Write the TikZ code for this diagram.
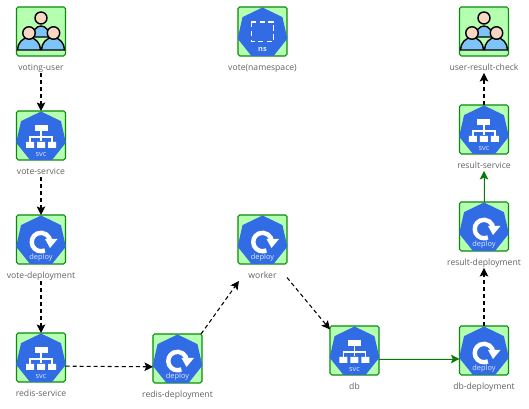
\documentclass[tikz,border=0pt]{standalone}
\usepackage{fontspec}
\setsansfont{Open Sans}
\usepackage{tikz}
\usetikzlibrary{arrows.meta,shapes.geometric}
\definecolor{kubeblue}{HTML}{326CE5}
\definecolor{leaf}{HTML}{B5FFB0}
\definecolor{rim}{HTML}{0B8A0B}
\definecolor{skin}{HTML}{F8D8C2}
\definecolor{shirt}{HTML}{7FC4F8}
\definecolor{flowgreen}{HTML}{0A7A0A}
\tikzset{unit/.style={inner sep=0pt,outer sep=0pt,minimum width=.98cm,minimum height=1.32cm,label={[caption]south:#1}},
caption/.style={anchor=south,inner sep=0pt,text height=3.9pt,text depth=1.3pt,font=\fontsize{4.9}{6}\selectfont\sffamily,text=black!62},
tag/.style={text=white!85!kubeblue,inner sep=0pt,font=\fontsize{4.2}{5}\selectfont\sffamily},
dashflow/.style={-{Stealth[length=1.7mm,width=1.7mm,inset=.35mm]},line width=.6pt,dash pattern=on 2.3pt off 1.7pt},
greenflow/.style={-{Stealth[length=1.7mm,width=1.7mm,inset=.35mm]},line width=.55pt,draw=flowgreen,fill=flowgreen},
person/.style={draw=black,line width=.8pt},
kubebase/.pic={
\draw[rim,fill=leaf,line width=.6pt,rounded corners=1pt] (-.49,0) rectangle (.49,-.98);
\node[regular polygon,regular polygon sides=7,minimum size=1.02cm,inner sep=0pt,fill=kubeblue] at (0,-.52) {};},
deployicon/.pic={
\pic {kubebase};
\draw[white,line width=2.5pt] (.078,-.708) arc (-65:-360:.185 and .185);
\fill[white] (.08,-.48) -- (.33,-.48) -- (.18,-.66) -- cycle;
\node[tag] at (0,-.86) {deploy};},
svcicon/.pic={
\pic {kubebase};
\fill[white] (-.13,-.29) rectangle (.13,-.40);
\draw[white,line width=.6pt] (0,-.40) -- (0,-.60) (-.22,-.62) -- (-.22,-.52) -- (.22,-.52) -- (.22,-.62);
\fill[white] (-.30,-.62) rectangle (-.14,-.74) (-.08,-.62) rectangle (.08,-.74) (.14,-.62) rectangle (.30,-.74);
\node[tag] at (0,-.87) {svc};},
nsicon/.pic={
\pic {kubebase};
\draw[white,line width=.6pt,densely dashed] (-.225,-.30) rectangle (.225,-.69);
\node[tag,font=\fontsize{4.2}{5}\selectfont\sffamily\bfseries] at (0,-.84) {ns};},
usersicon/.pic={
\draw[rim,fill=leaf,line width=.6pt,rounded corners=1pt] (-.49,0) rectangle (.49,-.98);
\draw[person,fill=shirt] (-.17,-.60) arc (180:0:.17 and .22) -- cycle;
\draw[person,fill=skin] (0,-.22) circle (.12);
\draw[person,fill=shirt] (-.47,-.86) arc (180:0:.23 and .25) -- cycle;
\draw[person,fill=skin] (-.24,-.52) circle (.125);
\draw[person,fill=shirt] (.01,-.86) arc (180:0:.23 and .25) -- cycle;
\draw[person,fill=skin] (.25,-.52) circle (.125);}}
\begin{document}
\begin{tikzpicture}
\useasboundingbox (0,0) rectangle (10.58,8.18);
\node[unit=voting-user] (votinguser) at (.82,7.38) {};
\pic at (votinguser.north) {usersicon};
\node[unit=vote-service] (voteservice) at (.82,5.30) {};
\pic at (voteservice.north) {svcicon};
\node[unit=vote-deployment] (votedeploy) at (.82,3.22) {};
\pic at (votedeploy.north) {deployicon};
\node[unit=redis-service] (redisservice) at (.82,.86) {};
\pic at (redisservice.north) {svcicon};
\node[unit=redis-deployment] (redisdeploy) at (3.55,.84) {};
\pic at (redisdeploy.north) {deployicon};
\node[unit=worker] (worker) at (5.25,3.22) {};
\pic at (worker.north) {deployicon};
\node[unit=vote(namespace)] (votens) at (5.25,7.38) {};
\pic at (votens.north) {nsicon};
\node[unit=db] (db) at (7.09,1.00) {};
\pic at (db.north) {svcicon};
\node[unit=db-deployment] (dbdeploy) at (9.68,1.00) {};
\pic at (dbdeploy.north) {deployicon};
\node[unit=result-deployment] (resultdeploy) at (9.68,3.48) {};
\pic at (resultdeploy.north) {deployicon};
\node[unit=result-service] (resultservice) at (9.68,5.42) {};
\pic at (resultservice.north) {svcicon};
\node[unit=user-result-check] (resultcheck) at (9.68,7.38) {};
\pic at (resultcheck.north) {usersicon};
\draw[dashflow] (votinguser)--(voteservice);
\draw[dashflow] (voteservice)--(votedeploy);
\draw[dashflow] (votedeploy)--(redisservice);
\draw[dashflow] (redisservice)--(redisdeploy);
\draw[dashflow] (redisdeploy)--(worker);
\draw[dashflow] (worker)--(db);
\draw[greenflow] (db)--(dbdeploy);
\draw[dashflow] (dbdeploy)--(resultdeploy);
\draw[greenflow] (resultdeploy)--(resultservice);
\draw[dashflow] (resultservice)--(resultcheck);
\end{tikzpicture}
\end{document}
